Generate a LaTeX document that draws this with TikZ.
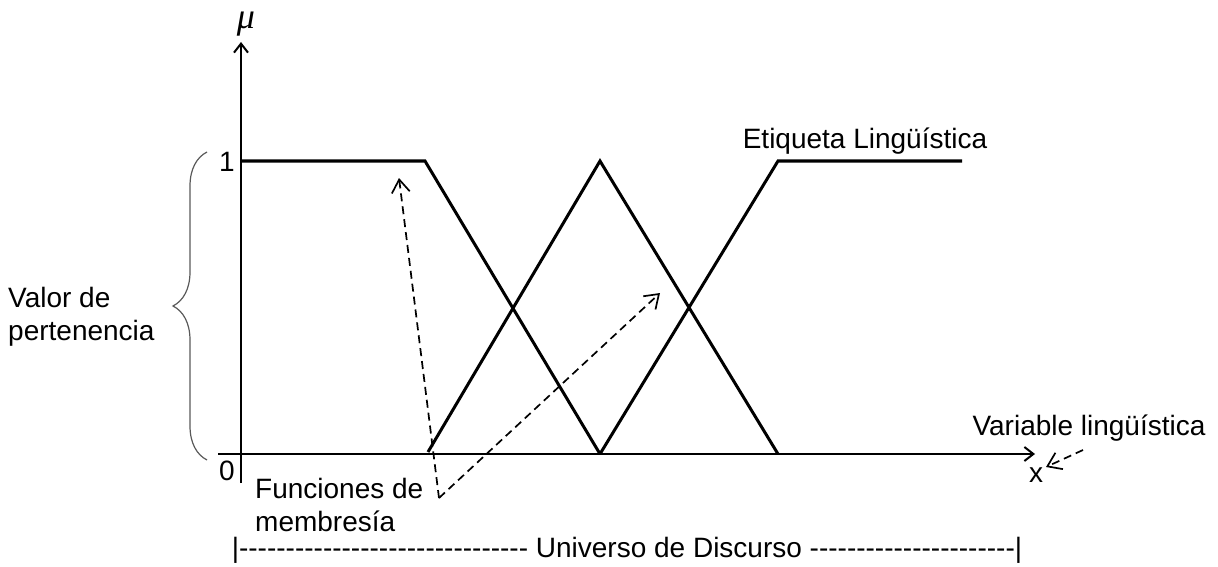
\documentclass[tikz,border=0pt]{standalone}
\usepackage{fontspec}
\setmainfont{Liberation Sans}[Ligatures=TeXOff]
\newfontfamily\greekfont{Liberation Serif}
\usetikzlibrary{arrows.meta,decorations.pathreplacing}

\begin{document}
\begin{tikzpicture}[
		x=1pt, y=-1pt,
		every node/.style={inner sep=0pt, font=\fontsize{28}{33}\selectfont},
		axis/.style={line width=2pt, -{Straight Barb[length=9pt, width=14pt, line width=2pt]}},
		fn/.style={line width=3pt},
		ptr/.style={line width=1.7pt, dash pattern=on 8pt off 5pt, -{Straight Barb[length=13pt, width=18pt, line width=1.7pt]}}
	]
  \useasboundingbox (0,0) rectangle (1218,567);
  \coordinate (y_0) at (241,483);
  \coordinate (y_1) at (241,42);
  \coordinate (x_0) at (218,454);
  \coordinate (x_1) at (1035,454);
  \draw [axis] (y_0) -- (y_1);
  \draw [axis] (x_0) -- (x_1);
  \node (mu) [font=\fontsize{36}{40}\selectfont\greekfont\itshape] at (246,24) {μ};
  \node (one) at (227,162) {1};
  \node (zero) at (227,471) {0};
  \node (x) [anchor=base] at (1036,482) {x};
  \coordinate (a_1) at (241,161);
  \coordinate (a_2) at (425,161);
  \coordinate (a_3) at (600,454);
  \coordinate (b_1) at (428,452);
  \coordinate (b_2) at (600,161);
  \coordinate (b_3) at (778,454);
  \coordinate (c_1) at (600,454);
  \coordinate (c_2) at (778,161);
  \coordinate (c_3) at (962,161);
  \draw [fn] (a_1) -- (a_2) -- (a_3);
  \draw [fn] (b_1) -- (b_2) -- (b_3);
  \draw [fn] (c_1) -- (c_2) -- (c_3);
  \draw [gray!70!black, line width=1.2pt, decorate, decoration={brace, amplitude=34pt, aspect=0.5}] (207,460) -- (207,152);
  \node (valor) [anchor=west, align=left] at (8,317) {Valor de\\pertenencia};
  \node (etiqueta) at (865,141) {Etiqueta Lingüística};
  \node (variable) at (1089,428) {Variable lingüística};
  \node (funciones) [anchor=west, align=left] at (255,505) {Funciones de\\membresía};
  \node (universo) at (627,550) {|------------------------------- Universo de Discurso ----------------------|};
  \coordinate (f) at (439,498);
  \coordinate (f_1) at (399,178);
  \coordinate (f_2) at (660,293);
  \draw [ptr] (f) -- (f_1);
  \draw [ptr] (f) -- (f_2);
  \coordinate (v) at (1083,450);
  \coordinate (v_1) at (1046,467);
  \draw [ptr] (v) -- (v_1);
\end{tikzpicture}
\end{document}
